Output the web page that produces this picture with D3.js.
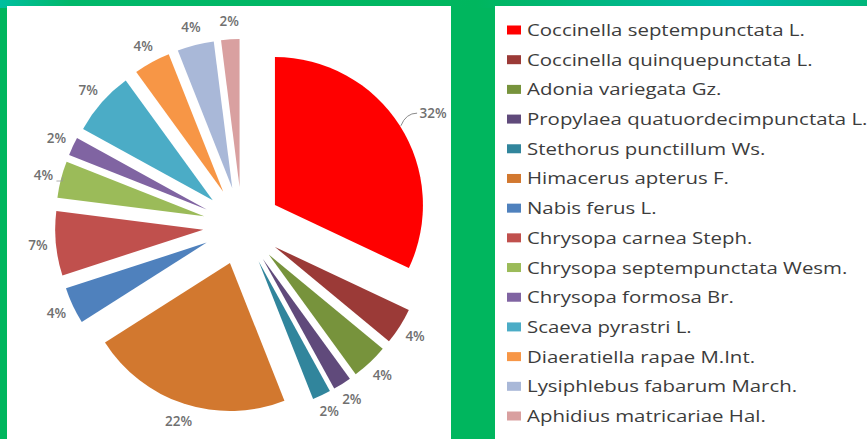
<meta charset="utf-8">
<head>
<style>
  body { margin: 0; background: #00b65e; }
  svg { display: block; }
</style>
</head>
<body>
  <div id="chartId"></div>
</body>
<script src="https://d3js.org/d3.v7.min.js"></script>
<script>

// Data
var species = [
  "Coccinella septempunctata L.",
  "Coccinella quinquepunctata L.",
  "Adonia variegata Gz.",
  "Propylaea quatuordecimpunctata L.",
  "Stethorus punctillum Ws.",
  "Himacerus apterus F.",
  "Nabis ferus L.",
  "Chrysopa carnea Steph.",
  "Chrysopa septempunctata Wesm.",
  "Chrysopa formosa Br.",
  "Scaeva pyrastri L.",
  "Diaeratiella rapae M.Int.",
  "Lysiphlebus fabarum March.",
  "Aphidius matricariae Hal."
];
var shares = [32, 4, 4, 2, 2, 22, 4, 7, 4, 2, 7, 4, 4, 2];
var colors = ["#ff0000", "#9b3a37", "#77933c", "#604a7b", "#31859c", "#d2782f", "#4f81bd",
              "#c0504d", "#9bbb59", "#8064a2", "#4bacc6", "#f79646", "#a9b8d8", "#d9a0a0"];

var width = 867, height = 439;
var cx = 242, cy = 226, radius = 148, explode = 39, labelR = 205;

var svg = d3.select("#chartId").append("svg")
  .attr("width", width)
  .attr("height", height);

// background: green with teal streak on top
var grad = svg.append("defs").append("linearGradient")
  .attr("id", "topband").attr("x1", "0").attr("x2", "1").attr("y1", "0").attr("y2", "0");
grad.append("stop").attr("offset", "0").attr("stop-color", "#00bfa0");
grad.append("stop").attr("offset", "0.08").attr("stop-color", "#00b86a");
grad.append("stop").attr("offset", "0.55").attr("stop-color", "#00b65e");
grad.append("stop").attr("offset", "0.85").attr("stop-color", "#00b8a8");
grad.append("stop").attr("offset", "1").attr("stop-color", "#00b67a");

svg.append("rect").attr("width", width).attr("height", height).attr("fill", "#00b65e");
svg.append("rect").attr("width", width).attr("height", 8).attr("fill", "url(#topband)");

// white panels
svg.append("rect").attr("x", 7).attr("y", 6).attr("width", 444).attr("height", height - 6).attr("fill", "#fff");
svg.append("rect").attr("x", 495).attr("y", 6).attr("width", width - 495).attr("height", height - 6).attr("fill", "#fff");

// Pie
var pie = d3.pie().sort(null).value(function(d) { return d; });
var arcs = pie(shares);
var arc = d3.arc().innerRadius(0).outerRadius(radius);

function dir(d) {
  var a = (d.startAngle + d.endAngle) / 2;
  return [Math.sin(a), -Math.cos(a)];
}

var g = svg.append("g").attr("transform", "translate(" + cx + "," + cy + ")");

g.selectAll("path")
  .data(arcs)
  .enter()
  .append("path")
  .attr("d", arc)
  .attr("fill", function(d, i) { return colors[i]; })
  .attr("transform", function(d) {
    var v = dir(d);
    return "translate(" + v[0] * explode + "," + v[1] * explode + ")";
  });

// Labels (the big one was dragged out a little, with a leader line)
var bigShift = [18, -3];

g.selectAll("text")
  .data(arcs)
  .enter()
  .append("text")
  .attr("text-anchor", "middle")
  .attr("dy", "0.35em")
  .attr("font-family", "'Open Sans', sans-serif")
  .attr("font-size", 13.5)
  .attr("font-weight", 600)
  .attr("fill", "#707070")
  .attr("x", function(d, i) {
    return dir(d)[0] * labelR + (i === 0 ? bigShift[0] : 0);
  })
  .attr("y", function(d, i) {
    return dir(d)[1] * labelR + (i === 0 ? bigShift[1] : 0);
  })
  .text(function(d) { return d.data + "%"; });

// leader line for the big slice
var bv = dir(arcs[0]);
var p0 = [bv[0] * (radius + explode) + 1, bv[1] * (radius + explode)];
var p1 = [bv[0] * labelR + bigShift[0] - 16, bv[1] * labelR + bigShift[1]];
g.append("path")
  .attr("d", "M" + p0[0] + "," + p0[1] + " Q" + (p0[0] + 5) + "," + p1[1] + " " + p1[0] + "," + p1[1])
  .attr("fill", "none")
  .attr("stroke", "#8a8a8a")
  .attr("stroke-width", 1);

// small leader for Chrysopa septempunctata
var sv = dir(arcs[8]);
g.append("path")
  .attr("d", "M" + (sv[0] * labelR + 13) + "," + (sv[1] * labelR + 6) + " h6 v-4")
  .attr("fill", "none")
  .attr("stroke", "#999")
  .attr("stroke-width", 0.8);

// Legend
var legend = svg.append("g");
var rowY = d3.scalePoint().domain(d3.range(species.length)).range([30, 416]);

var rows = legend.selectAll("g")
  .data(species)
  .enter()
  .append("g")
  .attr("transform", function(d, i) { return "translate(507," + rowY(i) + ")"; });

rows.append("rect")
  .attr("x", 0).attr("y", -4.5)
  .attr("width", 14).attr("height", 9)
  .attr("fill", function(d, i) { return colors[i]; });

var texts = rows.append("text")
  .attr("x", 0)
  .attr("y", 6)
  .attr("font-family", "'Open Sans', sans-serif")
  .attr("font-size", 16.5)
  .attr("fill", "#3c3c3c")
  .text(function(d) { return d; });

// the original legend is stretched horizontally
var w0 = texts.nodes()[0].getComputedTextLength();
var sx = 278 / w0;
texts.attr("transform", "translate(20,0) scale(" + sx + ",1)");

</script>
